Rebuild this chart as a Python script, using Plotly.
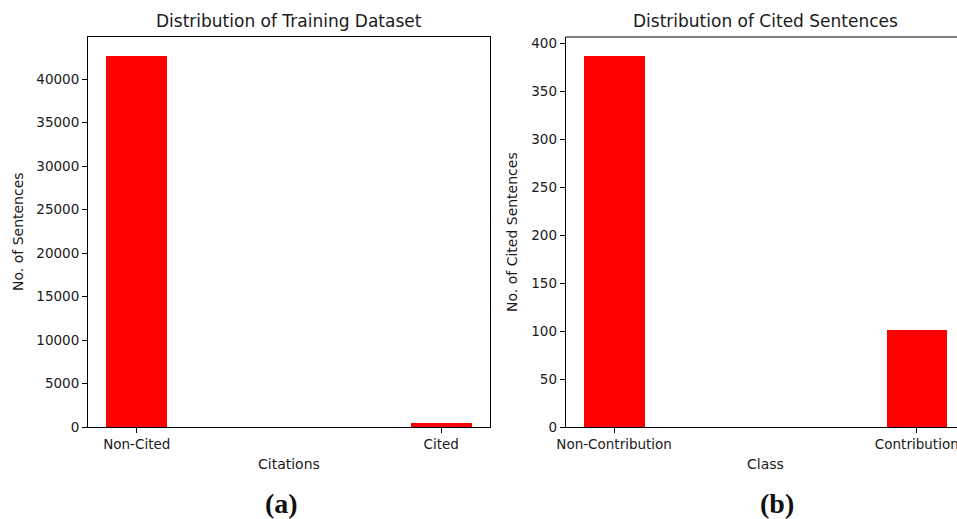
import plotly.graph_objects as go

# Data
citation_categories = ["Non-Cited", "Cited"]
citation_counts = [42700, 488]
class_categories = ["Non-Contribution", "Contribution"]
class_counts = [387, 101]
left_yticks = [0, 5000, 10000, 15000, 20000, 25000, 30000, 35000, 40000]
right_yticks = [0, 50, 100, 150, 200, 250, 300, 350, 400]

W, H = 957, 519
FONT = "DejaVu Sans"
TXT = "#1a1a1a"

fig = go.Figure()
fig.add_trace(go.Bar(x=citation_categories, y=citation_counts, width=0.2,
                     marker=dict(color="#ff0000", line=dict(width=0)),
                     xaxis="x", yaxis="y", showlegend=False))
fig.add_trace(go.Bar(x=class_categories, y=class_counts, width=0.2,
                     marker=dict(color="#ff0000", line=dict(width=0)),
                     xaxis="x2", yaxis="y2", showlegend=False))

def px_x(p):
    return p / W

def px_y(p):
    return (H - p) / H

y_dom = [px_y(427), px_y(37)]
tickfont = dict(family=FONT, size=13.5, color=TXT)
labfont = dict(family=FONT, size=14, color=TXT)

axis_common = dict(showgrid=False, zeroline=False, showline=True, linecolor="black",
                   linewidth=1, ticks="outside", ticklen=5, tickcolor="black",
                   tickfont=tickfont, automargin=False)

# right subplot: plot is cut off at the image edge (as in the reference)
r_left = 565.7
r_tick0 = 614.3
spacing = 302.5
r_max = (W - r_tick0) / spacing

fig.update_layout(
    template="none",
    width=W, height=H,
    margin=dict(l=0, r=0, t=0, b=0),
    paper_bgcolor="white", plot_bgcolor="white",
    bargap=0,
    xaxis=dict(domain=[px_x(88), px_x(490)], range=[-0.16, 1.16], type="category",
               mirror=True, anchor="y", **axis_common),
    yaxis=dict(domain=y_dom, range=[0, max(citation_counts) * 1.05], tickvals=left_yticks,
               ticktext=[str(v) for v in left_yticks],
               mirror=True, anchor="x", **axis_common),
    xaxis2=dict(domain=[px_x(r_left), 1.0], range=[-0.16, r_max], type="category",
                mirror=False, anchor="y2", **axis_common),
    yaxis2=dict(domain=y_dom, range=[0, max(class_counts) * 1.05], tickvals=right_yticks,
                ticktext=[str(v) for v in right_yticks],
                mirror=False, anchor="x2", **axis_common),
)

# top border of right axes
fig.add_shape(type="line", xref="paper", yref="paper",
              x0=px_x(r_left), x1=1.0, y0=y_dom[1], y1=y_dom[1],
              line=dict(color="black", width=1))

def label(text, x, y, font, angle=0):
    fig.add_annotation(text=text, xref="paper", yref="paper", x=px_x(x), y=px_y(y),
                       showarrow=False, font=font, textangle=angle,
                       xanchor="center", yanchor="middle")

# titles
titlefont = dict(family=FONT, size=17, color=TXT)
label("Distribution of Training Dataset", 289, 21, titlefont)
label("Distribution of Cited Sentences", 765, 21, titlefont)

# axis titles
label("Citations", 289, 464, labfont)
label("Class", 765, 464, labfont)
label("No. of Sentences", 18, 232, labfont, -90)
label("No. of Cited Sentences", 512, 232, labfont, -90)

# panel labels
plfont = dict(family="Liberation Serif", size=28, color="#111")
label("<b>(a)</b>", 281, 503, plfont)
label("<b>(b)</b>", 777, 503, plfont)

fig.write_html("out.html")
